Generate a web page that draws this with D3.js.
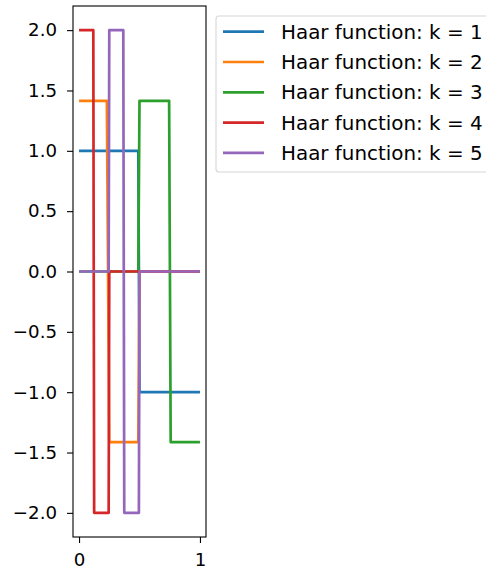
<!DOCTYPE html>
<html>
<head>
<meta charset="utf-8">
<script src="https://cdn.jsdelivr.net/npm/d3@7"></script>
<style>
  body { margin: 0; background: #fff; }
  text { font-family: "DejaVu Sans", sans-serif; fill: #000; }
</style>
</head>
<body>
<svg id="chart" width="486" height="573"></svg>
<script>
// points: [x, value]
const haar_k1 = [[0, 1], [0.49, 1], [0.5, -1], [1, -1]];
const haar_k2 = [[0, 1.414], [0.23, 1.414], [0.25, -1.414], [0.49, -1.414], [0.5, 0], [1, 0]];
const haar_k3 = [[0, 0], [0.49, 0], [0.5, 1.414], [0.745, 1.414], [0.758, -1.414], [1, -1.414]];
const haar_k4 = [[0, 2], [0.118, 2], [0.125, -2], [0.245, -2], [0.25, 0], [1, 0]];
const haar_k5 = [[0, 0], [0.245, 0], [0.25, 2], [0.366, 2], [0.374, -2], [0.495, -2], [0.5, 0], [1, 0]];

const series = [haar_k1, haar_k2, haar_k3, haar_k4, haar_k5];
const labels = ["Haar function: k = 1", "Haar function: k = 2", "Haar function: k = 3",
                "Haar function: k = 4", "Haar function: k = 5"];
const colors = ["#1f77b4", "#ff7f0e", "#2ca02c", "#d62728", "#9467bd"];
const y_ticks = [-2, -1.5, -1, -0.5, 0, 0.5, 1, 1.5, 2];
const x_ticks = [0, 1];

const svg = d3.select("#chart");
const ax_left = 73, ax_right = 206, ax_top = 6, ax_bottom = 537;
const tick_fs = 18.2, legend_fs = 19.9;

const x = d3.scaleLinear().domain([-0.05, 1.05]).range([ax_left, ax_right]);
const y = d3.scaleLinear().domain([-2.2, 2.2]).range([ax_bottom, ax_top]);

let line_gen = d3.line()
  .x(d => x(d[0]))
  .y(d => y(d[1]));

// lines, clipped to the axes box
svg.append("clipPath").attr("id", "clip")
  .append("rect")
  .attr("x", ax_left).attr("y", ax_top)
  .attr("width", ax_right - ax_left).attr("height", ax_bottom - ax_top);

svg.append("g").attr("clip-path", "url(#clip)")
  .selectAll("path")
  .data(series).enter()
  .append("path")
  .attr("d", line_gen)
  .attr("fill", "none")
  .attr("stroke", (d, i) => colors[i])
  .attr("stroke-width", 2.7)
  .attr("stroke-linejoin", "round")
  .attr("stroke-linecap", "butt");

// axes
let y_axis = d3.axisLeft(y)
  .tickValues(y_ticks)
  .tickFormat(d3.format(".1f"))
  .tickSize(6)
  .tickPadding(10);
let x_axis = d3.axisBottom(x)
  .tickValues(x_ticks)
  .tickFormat(d3.format("d"))
  .tickSize(6)
  .tickPadding(10.5);

let gy = svg.append("g").attr("transform", `translate(${ax_left},0)`).call(y_axis);
let gx = svg.append("g").attr("transform", `translate(0,${ax_bottom})`).call(x_axis);
[gy, gx].forEach(g => {
  g.select(".domain").remove();
  g.selectAll("line").attr("stroke", "#000").attr("stroke-width", 1.1);
  g.selectAll("text").style("font-size", tick_fs + "px").style("font-family", "DejaVu Sans");
});

// frame
svg.append("rect")
  .attr("x", ax_left).attr("y", ax_top)
  .attr("width", ax_right - ax_left).attr("height", ax_bottom - ax_top)
  .attr("fill", "none")
  .attr("stroke", "#000")
  .attr("stroke-width", 1.1);

// legend
let legend = svg.append("g");
legend.append("rect")
  .attr("x", 216).attr("y", 16)
  .attr("width", 276).attr("height", 156)
  .attr("rx", 3)
  .attr("fill", "#fff")
  .attr("stroke", "#d6d6d6")
  .attr("stroke-width", 1.1);

let rows = legend.selectAll("g.row")
  .data(labels).enter()
  .append("g")
  .attr("transform", (d, i) => `translate(0,${31.7 + i * 30.3})`);
rows.append("line")
  .attr("x1", 223).attr("x2", 264)
  .attr("stroke", (d, i) => colors[i])
  .attr("stroke-width", 2.7);
rows.append("text")
  .attr("x", 281)
  .attr("dy", "0.35em")
  .style("font-size", legend_fs + "px")
  .text(d => d);
</script>
</body>
</html>
